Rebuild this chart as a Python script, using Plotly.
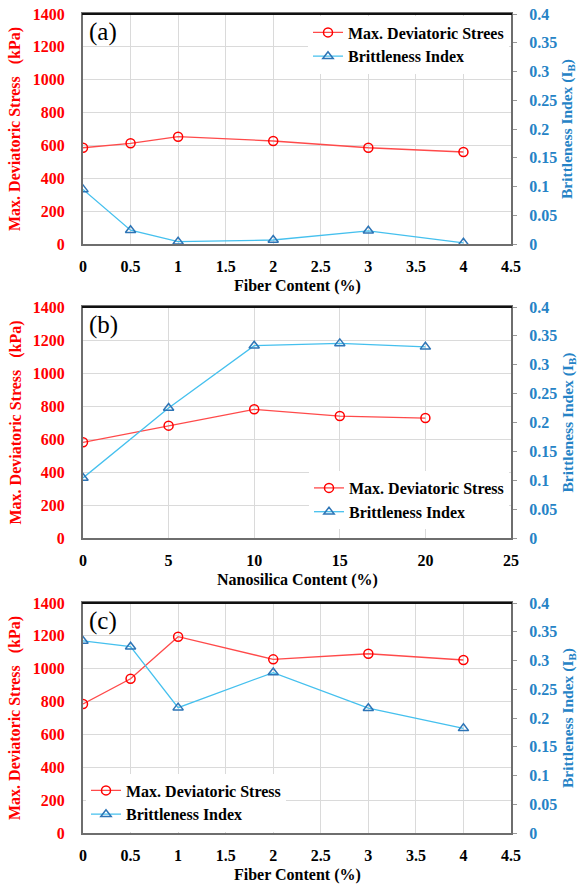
import plotly.graph_objects as go

# ---- data ----
fiber_x = [0, 0.5, 1, 2, 3, 4]
a_stress = [586, 613, 653, 627, 586, 560]
a_bi = [0.095, 0.024, 0.004, 0.007, 0.023, 0.002]

nano_x = [0, 5, 10, 15, 20]
b_stress = [580, 681, 780, 739, 727]
b_bi = [0.104, 0.225, 0.333, 0.337, 0.331]

c_stress = [785, 939, 1195, 1057, 1091, 1053]
c_bi = [0.334, 0.324, 0.218, 0.279, 0.217, 0.182]

fiber_ticks = [0, 0.5, 1, 1.5, 2, 2.5, 3, 3.5, 4, 4.5]
fiber_ticklabels = ["0", "0.5", "1", "1.5", "2", "2.5", "3", "3.5", "4", "4.5"]
nano_ticks = [0, 5, 10, 15, 20, 25]
nano_ticklabels = ["0", "5", "10", "15", "20", "25"]
stress_ticks = [0, 200, 400, 600, 800, 1000, 1200, 1400]
stress_ticklabels = ["0", "200", "400", "600", "800", "1000", "1200", "1400"]
bi_ticks = [0, 0.05, 0.1, 0.15, 0.2, 0.25, 0.3, 0.35, 0.4]
bi_ticklabels = ["0", "0.05", "0.1", "0.15", "0.2", "0.25", "0.3", "0.35", "0.4"]

legend_a = ["Max. Deviatoric Strees", "Brittleness Index"]
legend_bc = ["Max. Deviatoric Stress", "Brittleness Index"]
panel_labels = ["(a)", "(b)", "(c)"]
x_titles = ["Fiber Content (%)", "Nanosilica Content (%)", "Fiber Content (%)"]
y_left_title = "Max. Deviatoric Stress   (kPa)"
y_right_title = "Brittleness Index (I<sub>B</sub>)"

W, H = 579, 886
FONT = "Liberation Serif"
RED = "#FF0000"
RED_LINE = "#FF4A4A"
BLUE_TXT = "#2583C6"
BLUE_LINE = "#45C0EE"
BLUE_MK = "#2E75B6"
FRAME = "#6E6E6E"

px_x = (83, 511)
boxes = [(14, 244), (307, 538), (603, 833)]

def fx(p):
    return p / W

def fy(p):
    return 1 - p / H

def b(s):
    return f"<b>{s}</b>"

fig = go.Figure()

panels = [
    (fiber_x, a_stress, a_bi, legend_a, [0, 4.5], fiber_ticks, fiber_ticklabels),
    (nano_x, b_stress, b_bi, legend_bc, [0, 25], nano_ticks, nano_ticklabels),
    (fiber_x, c_stress, c_bi, legend_bc, [0, 4.5], fiber_ticks, fiber_ticklabels),
]
legend_pos = [
    dict(x=fx(509), y=fy(15.5), xanchor="right", yanchor="top"),
    dict(x=fx(509), y=fy(529), xanchor="right", yanchor="bottom"),
    dict(x=fx(86), y=fy(831.5), xanchor="left", yanchor="bottom"),
]

layout = dict(
    width=W, height=H,
    margin=dict(l=0, r=0, t=0, b=0, autoexpand=False),
    paper_bgcolor="white", plot_bgcolor="white",
    font=dict(family=FONT, color="black"),
    annotations=[], shapes=[],
)

for i, (xs, ys, bis, names, xr, xt, xtl) in enumerate(panels):
    n = i + 1
    xa = "x" if n == 1 else f"x{n}"
    yl = 2 * n - 1
    yr = 2 * n
    yl_name = "y" if yl == 1 else f"y{yl}"
    yr_name = f"y{yr}"
    leg = "legend" if n == 1 else f"legend{n}"
    fig.add_trace(go.Scatter(
        x=xs, y=ys, name=b(names[0]), xaxis=xa, yaxis=yl_name, legend=leg,
        mode="lines+markers",
        line=dict(color=RED_LINE, width=1.3),
        marker=dict(symbol="circle-open", size=9, color=RED, line=dict(width=1.5, color=RED)),
    ))
    fig.add_trace(go.Scatter(
        x=xs, y=bis, name=b(names[1]), xaxis=xa, yaxis=yr_name, legend=leg,
        mode="lines+markers",
        line=dict(color=BLUE_LINE, width=1.3),
        marker=dict(symbol="triangle-up-open", size=9, color=BLUE_MK, line=dict(width=1.5, color=BLUE_MK)),
    ))
    top, bot = boxes[i]
    ydom = [fy(bot), fy(top)]
    xkey = "xaxis" if n == 1 else f"xaxis{n}"
    layout[xkey] = dict(
        domain=[fx(px_x[0]), fx(px_x[1])], anchor=yl_name, range=xr,
        tickmode="array", tickvals=xt, ticktext=[b(t) for t in xtl],
        showgrid=True, gridcolor="#DADADA", gridwidth=1,
        showline=True, linecolor=FRAME, linewidth=2, mirror=True,
        ticks="", zeroline=False, automargin=False,
        tickfont=dict(family=FONT, size=16, color="black"),
        ticklabelstandoff=7,
    )
    ylkey = "yaxis" if yl == 1 else f"yaxis{yl}"
    layout[ylkey] = dict(
        domain=ydom, anchor=xa, range=[0, 1400],
        tickmode="array", tickvals=stress_ticks, ticktext=[b(t) for t in stress_ticklabels],
        showgrid=True, gridcolor="#DADADA", gridwidth=1,
        showline=True, linecolor=FRAME, linewidth=2, mirror=True,
        ticks="", zeroline=False, automargin=False,
        tickfont=dict(family=FONT, size=16, color=RED),
        ticklabelstandoff=13,
    )
    layout[f"yaxis{yr}"] = dict(
        domain=ydom, anchor=xa, overlaying=yl_name, side="right",
        range=[0, 0.4],
        tickmode="array", tickvals=bi_ticks, ticktext=[b(t) for t in bi_ticklabels],
        showgrid=False, zeroline=False,
        showline=True, linecolor=FRAME, linewidth=2, automargin=False,
        ticks="outside", ticklen=4, tickcolor="#999999",
        tickfont=dict(family=FONT, size=16, color=BLUE_TXT),
        ticklabelstandoff=9,
    )
    layout[leg] = dict(
        **legend_pos[i], bgcolor="white", borderwidth=0,
        font=dict(family=FONT, size=16, color="black"),
        tracegroupgap=0, itemwidth=30,
    )
    layout["shapes"].append(dict(
        type="line", xref="paper", yref="paper",
        x0=fx(px_x[0] - 1), x1=fx(px_x[1] + 1), y0=fy(top), y1=fy(top),
        line=dict(color="#111111", width=2),
    ))
    mid = (top + bot) / 2
    layout["annotations"] += [
        dict(text=panel_labels[i], xref="paper", yref="paper", x=fx(87), y=fy(top + 18),
             xanchor="left", yanchor="middle", showarrow=False,
             font=dict(family=FONT, size=25, color="black")),
        dict(text=b(x_titles[i]), xref="paper", yref="paper", x=fx((px_x[0] + px_x[1]) / 2),
             y=fy(bot + 42), xanchor="center", yanchor="middle", showarrow=False,
             font=dict(family=FONT, size=16, color="black")),
        dict(text=b(y_left_title), xref="paper", yref="paper", x=fx(15), y=fy(mid),
             xanchor="center", yanchor="middle", textangle=-90, showarrow=False,
             font=dict(family=FONT, size=16, color=RED)),
        dict(text=b(y_right_title), xref="paper", yref="paper", x=fx(568), y=fy(mid),
             xanchor="center", yanchor="middle", textangle=-90, showarrow=False,
             font=dict(family=FONT, size=15.5, color=BLUE_TXT)),
    ]

fig.update_layout(**layout)
fig.write_html("out.html")
